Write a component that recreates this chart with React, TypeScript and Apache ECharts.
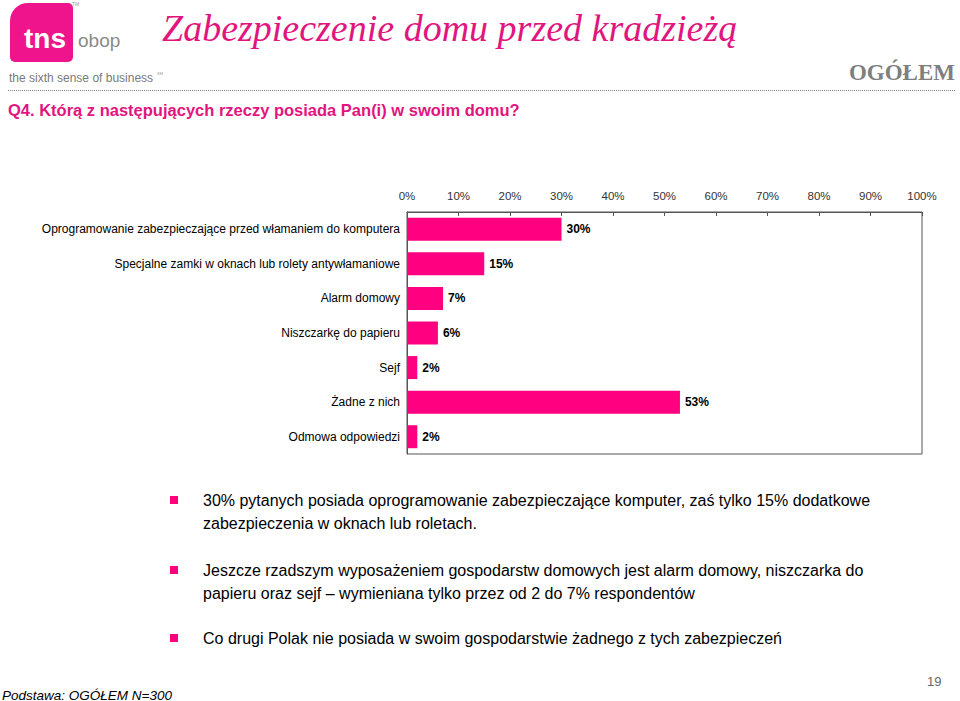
import React, { useEffect, useRef } from "react";
import * as echarts from "echarts";

const categories = [
  "Oprogramowanie zabezpieczające przed włamaniem do komputera",
  "Specjalne zamki w oknach lub rolety antywłamaniowe",
  "Alarm domowy",
  "Niszczarkę do papieru",
  "Sejf",
  "Żadne z nich",
  "Odmowa odpowiedzi",
];
const values = [30, 15, 7, 6, 2, 53, 2];
const tickMax = 100;
const tickStep = 10;

const bullets = [
  ["30% pytanych posiada oprogramowanie zabezpieczające komputer, zaś tylko 15% dodatkowe", "zabezpieczenia w oknach lub roletach."],
  ["Jeszcze rzadszym wyposażeniem gospodarstw domowych jest alarm domowy, niszczarka do", "papieru oraz sejf – wymieniana tylko przez od 2 do 7% respondentów"],
  ["Co drugi Polak nie posiada w swoim gospodarstwie żadnego z tych zabezpieczeń"],
];

const MAGENTA = "#FF0080";
const SANS = "'Liberation Sans', Arial, sans-serif";
const SERIF = "'Liberation Serif', 'Times New Roman', serif";

export default function App() {
  const ref = useRef<HTMLDivElement>(null);
  useEffect(() => {
    if (!ref.current) return;
    const chart = echarts.init(ref.current, null, { renderer: "svg" });
    const bulletY = [500, 570, 638];
    const graphics: any[] = [];
    // logo
    graphics.push({
      type: "rect",
      shape: { x: 10, y: 3, width: 63, height: 59, r: [18, 5, 5, 5] },
      style: { fill: "#F0148C" },
    });
    graphics.push({
      type: "text",
      x: 24,
      y: 24,
      style: { text: "tns", fill: "#fff", font: `bold 28px ${SANS}` },
    });
    graphics.push({
      type: "text",
      x: 78,
      y: 31,
      style: { text: "obop", fill: "#8a8a8a", font: `19px ${SANS}` },
    });
    graphics.push({
      type: "text",
      x: 72,
      y: 1,
      style: { text: "TM", fill: "#999", font: `5px ${SANS}` },
    });
    graphics.push({
      type: "text",
      x: 9,
      y: 72,
      style: { text: "the sixth sense of business", fill: "#7a7a7a", font: `12px ${SANS}` },
    });
    graphics.push({
      type: "text",
      x: 157,
      y: 71,
      style: { text: "SM", fill: "#999", font: `4px ${SANS}` },
    });
    graphics.push({
      type: "line",
      shape: { x1: 8, y1: 90.5, x2: 955, y2: 90.5 },
      style: { stroke: "#888", lineWidth: 1, lineDash: [1, 1] },
    });
    graphics.push({
      type: "text",
      x: 162,
      y: 9,
      style: { text: "Zabezpieczenie domu przed kradzieżą", fill: "#E2157F", font: `italic 38px ${SERIF}` },
    });
    graphics.push({
      type: "text",
      x: 955,
      y: 61,
      style: { text: "OGÓŁEM", fill: "#7f7f7f", font: `bold 23px ${SERIF}`, align: "right" },
    });
    graphics.push({
      type: "text",
      x: 8,
      y: 101,
      style: { text: "Q4. Którą z następujących rzeczy posiada Pan(i) w swoim domu?", fill: "#E2157F", font: `bold 16.5px ${SANS}` },
    });
    bullets.forEach((lines, i) => {
      graphics.push({
        type: "rect",
        shape: { x: 170, y: bulletY[i] - 4, width: 8, height: 8 },
        style: { fill: MAGENTA },
      });
      lines.forEach((ln, j) => {
        graphics.push({
          type: "text",
          x: 203,
          y: bulletY[i] + j * 23,
          style: { text: ln, fill: "#000", font: `16px ${SANS}`, verticalAlign: "middle" },
        });
      });
    });
    graphics.push({
      type: "text",
      x: 2,
      y: 688,
      style: { text: "Podstawa: OGÓŁEM N=300", fill: "#000", font: `italic 13.5px ${SANS}` },
    });
    graphics.push({
      type: "text",
      x: 927,
      y: 675,
      style: { text: "19", fill: "#666", font: `13px ${SANS}` },
    });

    chart.setOption({
      animation: false,
      grid: {
        left: 407,
        right: 38,
        top: 212,
        height: 242,
        show: true,
        borderColor: "#555",
        borderWidth: 1,
        containLabel: false,
      },
      xAxis: {
        type: "value",
        position: "top",
        min: 0,
        max: tickMax,
        interval: tickStep,
        axisLine: { show: true, lineStyle: { color: "#555" } },
        axisTick: { show: true, inside: true, length: 4, lineStyle: { color: "#555" } },
        splitLine: { show: false },
        axisLabel: {
          formatter: "{value}%",
          color: "#333",
          fontFamily: SANS,
          fontSize: 11.5,
          margin: 10,
        },
      },
      yAxis: {
        type: "category",
        data: categories,
        inverse: true,
        axisLine: { show: true, lineStyle: { color: "#555" } },
        axisTick: { show: false },
        axisLabel: { color: "#000", fontFamily: SANS, fontSize: 12, margin: 7 },
      },
      series: [
        {
          type: "bar",
          data: values,
          barWidth: 23,
          itemStyle: { color: MAGENTA },
          label: {
            show: true,
            position: "right",
            distance: 5,
            formatter: "{c}%",
            color: "#000",
            fontFamily: SANS,
            fontWeight: "bold",
            fontSize: 12,
          },
        },
      ],
      graphic: graphics,
    });
    return () => chart.dispose();
  }, []);
  return <div ref={ref} style={{ width: 960, height: 701, position: "absolute", left: 0, top: 0 }} />;
}
